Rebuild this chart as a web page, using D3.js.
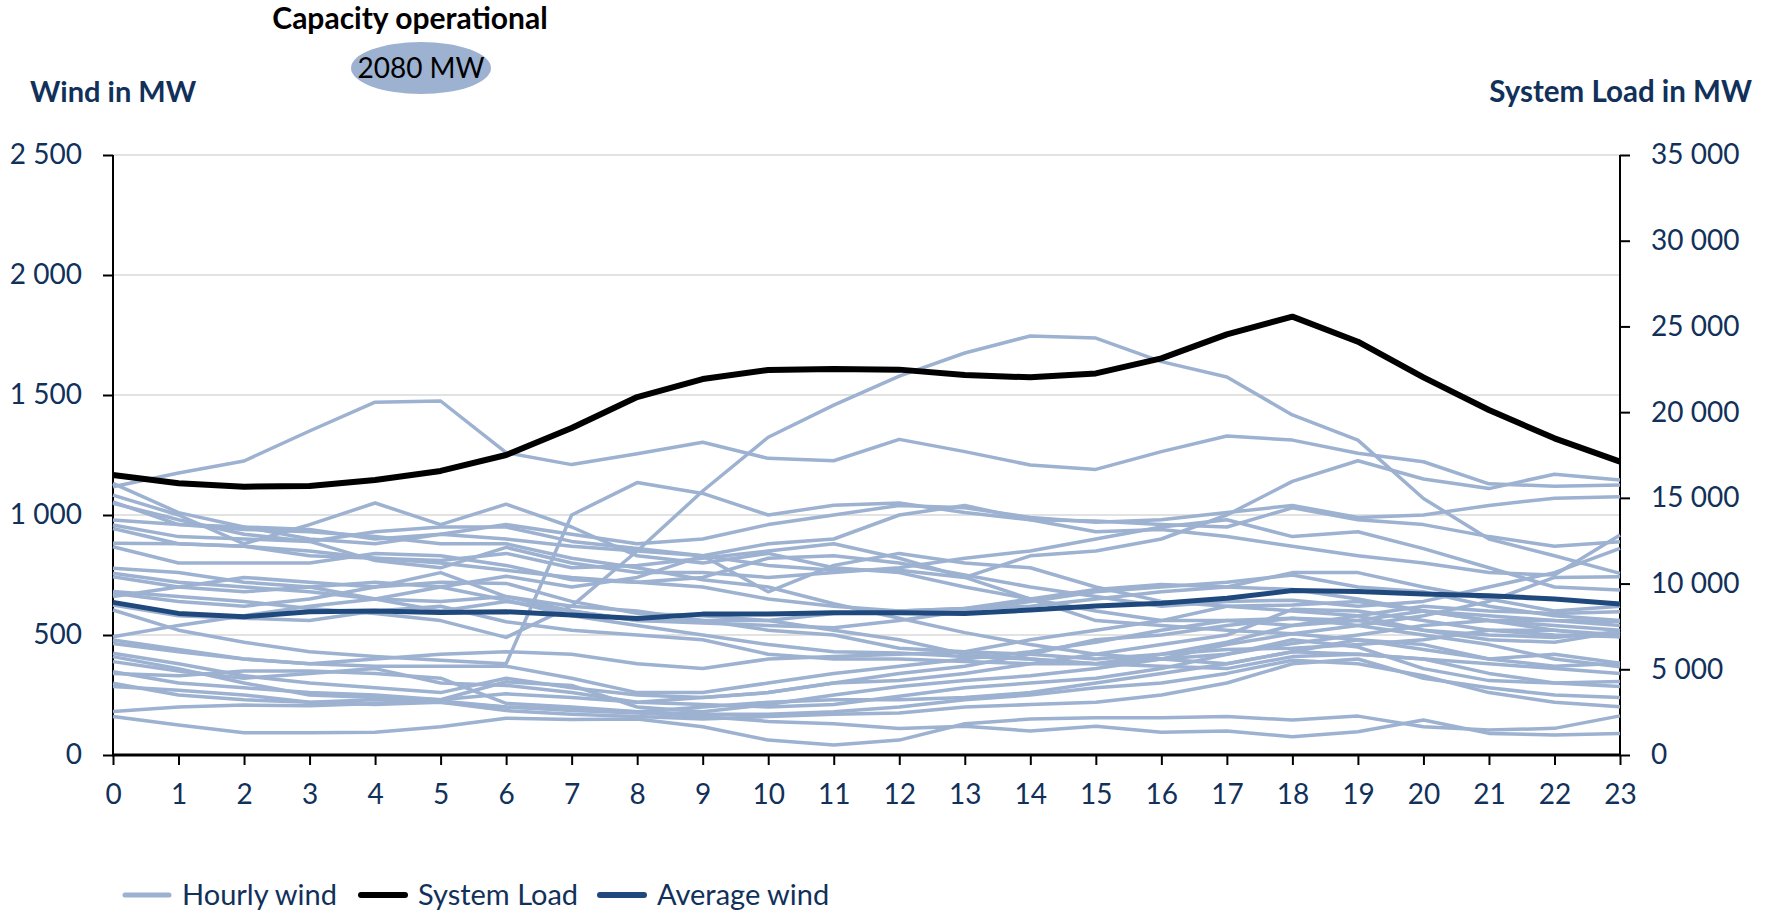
<!DOCTYPE html>
<html><head><meta charset="utf-8">
<script src="https://cdn.jsdelivr.net/npm/d3@7"></script>
<style>
body{margin:0;background:#fff;}
text{font-family:Lato,"Open Sans",sans-serif;}
</style></head>
<body><svg id="c" width="1765" height="913"></svg>
<script>
const hours = d3.range(0,24);
const windTicks = [0,500,1000,1500,2000,2500];
const loadTicks = [0,5000,10000,15000,20000,25000,30000,35000];
const capacityLabel = "2080 MW";

const systemLoad = [16330,15850,15650,15690,16040,16570,17500,19070,20880,21930,22460,22520,22480,22170,22030,22260,23140,24540,25570,24110,22030,20125,18470,17110];
const averageWind = [636,590,576,597,600,594,597,583,569,587,588,593,593,590,604,621,632,653,685,681,671,664,650,629];

const hourlyWind = [
 [1118,1175,1225,1350,1470,1475,1260,1210,1255,1303,1236,1226,1315,1264,1208,1190,1264,1329,1312,1257,1222,1130,1120,1125],
 [681,660,640,610,590,560,490,620,850,1100,1324,1458,1579,1675,1746,1737,1639,1575,1417,1312,1069,900,830,757],
 [604,520,470,430,410,395,380,1000,1135,1090,1000,1041,1050,1010,980,975,960,950,1030,980,960,910,870,889],
 [1132,1010,950,940,900,920,960,920,880,900,960,1000,1040,1030,990,970,980,1010,1040,990,1000,1040,1070,1076],
 [1083,1000,880,960,1050,960,1045,950,830,800,840,780,760,700,650,600,560,560,540,560,600,580,560,556],
 [1055,960,950,900,880,920,900,870,850,830,680,790,840,800,780,700,640,620,600,580,520,480,470,514],
 [1049,980,920,890,930,950,950,890,860,830,790,770,770,740,830,850,900,1000,1140,1226,1150,1110,1170,1146],
 [979,960,940,930,910,880,880,820,780,730,700,630,570,510,460,420,400,380,430,480,460,400,420,382],
 [958,910,900,890,810,780,865,800,760,760,740,760,780,820,850,900,950,980,910,930,860,780,700,688],
 [944,880,870,830,820,810,840,780,790,820,850,880,820,740,650,560,540,520,505,540,580,640,740,743],
 [882,880,870,850,820,800,770,740,720,700,650,620,600,610,650,690,710,700,690,650,600,560,520,493],
 [868,800,800,800,840,830,790,730,720,740,820,830,800,750,700,660,620,640,645,620,640,700,760,861],
 [778,760,720,700,720,700,745,700,740,830,880,900,1000,1040,980,930,940,910,870,830,800,760,750,917],
 [757,720,700,680,650,640,660,620,600,560,520,500,445,430,420,400,420,470,540,580,620,600,590,597],
 [743,700,680,700,650,600,640,600,560,560,560,590,600,610,620,650,680,700,760,760,700,650,600,620],
 [674,640,620,650,700,720,715,640,590,580,560,520,480,420,400,380,400,420,465,500,540,560,560,540],
 [660,700,740,720,700,760,660,600,560,550,540,530,560,600,640,680,700,720,750,700,680,620,580,560],
 [625,580,570,560,600,620,555,520,500,480,420,400,400,390,380,380,420,440,445,460,480,520,520,500],
 [493,540,580,620,650,700,645,580,540,500,460,430,425,410,400,380,370,360,410,420,400,380,360,340],
 [479,440,400,380,400,420,430,420,380,360,400,410,420,430,480,520,560,620,625,640,600,560,540,520],
 [465,430,400,380,370,370,370,320,260,260,300,340,370,400,430,470,520,560,570,540,500,460,400,368],
 [424,380,330,300,280,260,320,280,250,240,260,300,340,370,420,480,500,540,570,560,520,500,490,514],
 [410,360,300,250,240,230,305,290,200,180,210,250,285,310,330,360,400,460,505,480,440,400,370,382],
 [389,350,320,340,360,300,290,260,220,240,260,300,310,340,380,420,460,500,607,600,560,520,500,493],
 [347,300,280,260,250,230,255,240,220,210,200,210,245,280,300,320,360,420,480,450,360,310,300,306],
 [340,330,350,350,340,320,215,200,180,200,220,230,230,240,260,300,340,380,430,420,400,340,300,285],
 [299,250,230,220,230,220,200,190,180,170,170,180,200,230,250,280,300,340,395,380,330,260,220,201],
 [285,270,250,220,210,220,185,170,160,150,160,170,175,200,210,220,250,300,380,400,320,280,250,240],
 [181,200,208,205,215,225,200,185,175,160,140,130,110,120,100,120,95,100,76,97,146,90,83,90],
 [160,125,93,93,95,118,153,148,150,118,62,42,62,130,150,155,155,160,146,162,118,104,111,163]
];

const navy = "#11315a";
const hourlyColor = "#9db1d1";
const avgColor = "#1f497d";

const svg = d3.select("#c");
const x = d3.scaleLinear().domain([0,23]).range([113,1620]);
const yL = d3.scaleLinear().domain([0,2500]).range([755,155]);
const yR = d3.scaleLinear().domain([0,35000]).range([755,155]);
const fmt = d3.formatLocale({decimal:".",thousands:" ",grouping:[3],currency:["",""]}).format(",");

// gridlines
svg.append("g").selectAll("line").data(windTicks.filter(d=>d>0)).join("line")
  .attr("x1",113).attr("x2",1620).attr("y1",d=>yL(d)).attr("y2",d=>yL(d))
  .attr("stroke","#d9d9d9").attr("stroke-width",1.5);

// axes
const gl = svg.append("g").attr("transform","translate(113,0)")
  .call(d3.axisLeft(yL).tickValues(windTicks).tickSize(10).tickPadding(21).tickFormat(fmt));
const gr = svg.append("g").attr("transform","translate(1620,0)")
  .call(d3.axisRight(yR).tickValues(loadTicks).tickSize(10).tickPadding(21).tickFormat(fmt));
const gb = svg.append("g").attr("transform","translate(0,755)")
  .call(d3.axisBottom(x).tickValues(hours).tickSize(10).tickPadding(19).tickFormat(d3.format("d")));
[gl,gr,gb].forEach(g=>{
  g.select(".domain").remove();
  g.selectAll(".tick line").attr("stroke","#000").attr("stroke-width",2);
  g.selectAll("text").attr("fill",navy).style("font-size","28px").style("font-family","Lato");
});
svg.append("line").attr("x1",113).attr("x2",113).attr("y1",155).attr("y2",755).attr("stroke","#000").attr("stroke-width",2);
svg.append("line").attr("x1",1620).attr("x2",1620).attr("y1",155).attr("y2",755).attr("stroke","#000").attr("stroke-width",2);
svg.append("line").attr("x1",112).attr("x2",1621).attr("y1",755).attr("y2",755).attr("stroke","#000").attr("stroke-width",3);

// lines
const lineW = d3.line().x((d,i)=>x(hours[i])).y(d=>yL(d));
const lineR = d3.line().x((d,i)=>x(hours[i])).y(d=>yR(d));
svg.append("g").selectAll("path").data(hourlyWind).join("path")
  .attr("d",lineW).attr("fill","none").attr("stroke",hourlyColor).attr("stroke-width",3.5).attr("stroke-linejoin","round");
svg.append("path").datum(systemLoad).attr("d",lineR).attr("fill","none").attr("stroke","#000").attr("stroke-width",6).attr("stroke-linejoin","round");
svg.append("path").datum(averageWind).attr("d",lineW).attr("fill","none").attr("stroke",avgColor).attr("stroke-width",5).attr("stroke-linejoin","round");

// titles
svg.append("text").attr("x",30).attr("y",102).attr("fill",navy).style("font-size","29px").style("font-weight","bold").text("Wind in MW");
svg.append("text").attr("x",1752).attr("y",102).attr("text-anchor","end").attr("fill",navy).style("font-size","29.5px").style("font-weight","bold").text("System Load in MW");
svg.append("text").attr("x",410).attr("y",29).attr("text-anchor","middle").attr("fill","#000").style("font-size","30px").style("font-weight","bold").text("Capacity operational");
svg.append("ellipse").attr("cx",421).attr("cy",68).attr("rx",70).attr("ry",26).attr("fill","#9db1d1");
svg.append("text").attr("x",421).attr("y",78).attr("text-anchor","middle").attr("fill","#000").style("font-size","28px").text(capacityLabel);

// legend
const legend = [
  {label:"Hourly wind", color:hourlyColor, w:5, x:125},
  {label:"System Load", color:"#000", w:6, x:361},
  {label:"Average wind", color:avgColor, w:6, x:600}
];
const lg = svg.append("g").selectAll("g").data(legend).join("g");
lg.append("line").attr("x1",d=>d.x).attr("x2",d=>d.x+44).attr("y1",895).attr("y2",895)
  .attr("stroke",d=>d.color).attr("stroke-width",d=>d.w).attr("stroke-linecap","round");
lg.append("text").attr("x",d=>d.x+57).attr("y",905).attr("fill",navy).style("font-size","29px").text(d=>d.label);
</script></body></html>
